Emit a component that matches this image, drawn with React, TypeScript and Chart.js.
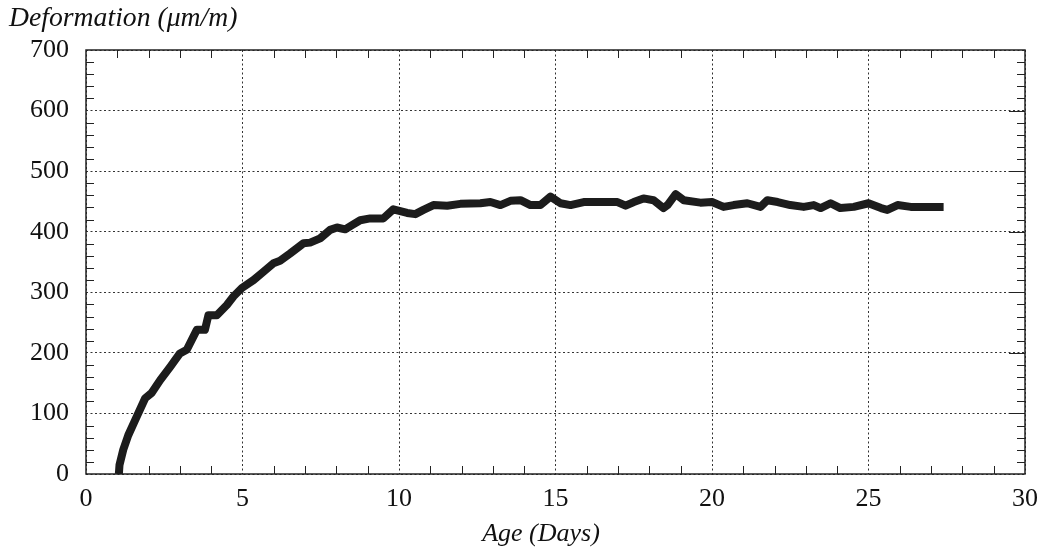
import React, { useEffect, useRef } from "react";
import { Chart, registerables } from "chart.js";

Chart.register(...registerables);

const ages = [
  1.05, 1.07, 1.19, 1.35, 1.57, 1.89, 2.1, 2.37, 2.69, 3.0, 3.22, 3.54, 3.8, 3.91, 4.18, 4.5,
  4.71, 4.98, 5.35, 5.67, 5.99, 6.2, 6.52, 6.95, 7.16, 7.48, 7.8, 8.02, 8.28, 8.5, 8.76, 9.08,
  9.5, 9.82, 10.26, 10.52, 10.78, 11.1, 11.54, 11.96, 12.6, 12.92, 13.24, 13.56, 13.88, 14.2,
  14.52, 14.84, 15.16, 15.48, 15.9, 16.44, 16.98, 17.24, 17.5, 17.81, 18.13, 18.45, 18.58,
  18.84, 19.1, 19.63, 20.0, 20.37, 20.69, 21.13, 21.55, 21.77, 22.1, 22.5, 22.93, 23.25,
  23.47, 23.79, 24.1, 24.53, 25.0, 25.4, 25.6, 25.93, 26.35, 26.77, 27.4,
];

const deformation = [
  0, 15, 40, 64, 89, 125, 134, 155, 177, 199, 205, 238, 238, 262, 262, 279,
  293, 307, 320, 334, 348, 352, 364, 381, 382, 389, 403, 407, 404, 411, 419, 422,
  422, 437, 431, 429, 436, 444, 443, 446, 447, 449, 444, 451, 452, 444,
  444, 458, 447, 444, 449, 449, 449, 443, 449, 455, 452, 439, 444,
  462, 452, 448, 449, 441, 444, 447, 441, 452, 449, 444, 441, 444,
  439, 447, 439, 441, 447, 439, 436, 444, 441, 441, 441,
];

const xMin = 0;
const xMax = 30;
const xStep = 5;
const xMinorStep = 1;
const yMin = 0;
const yMax = 700;
const yStep = 100;
const yMinorStep = 20;

const yTitle = "Deformation (μm/m)";
const xTitle = "Age (Days)";

const FONT = '"Liberation Serif", "Times New Roman", serif';

const framePlugin = {
  id: "frame",
  beforeDatasetsDraw(chart: any) {
    const { ctx, chartArea, scales } = chart;
    const { left, right, top, bottom } = chartArea;
    const xs = scales.x;
    const ys = scales.y;
    ctx.save();
    ctx.setLineDash([]);
    ctx.strokeStyle = "#222";
    ctx.lineWidth = 1;
    ctx.beginPath();
    for (let v = xMin + xMinorStep; v < xMax; v += xMinorStep) {
      if (v % xStep === 0) continue;
      const px = Math.round(xs.getPixelForValue(v)) + 0.5;
      ctx.moveTo(px, bottom);
      ctx.lineTo(px, bottom - 8);
      ctx.moveTo(px, top);
      ctx.lineTo(px, top + 8);
    }
    for (let v = yMin + yMinorStep; v < yMax; v += yMinorStep) {
      const py = Math.round(ys.getPixelForValue(v)) + 0.5;
      if (v % yStep === 0) {
        ctx.moveTo(right, py);
        ctx.lineTo(right - 16, py);
        continue;
      }
      ctx.moveTo(left, py);
      ctx.lineTo(left + 8, py);
      ctx.moveTo(right, py);
      ctx.lineTo(right - 8, py);
    }
    ctx.stroke();
    ctx.lineWidth = 1.5;
    ctx.strokeRect(left, top, right - left, bottom - top);
    ctx.restore();
  },
  afterDraw(chart: any) {
    const { ctx } = chart;
    ctx.save();
    ctx.fillStyle = "#111";
    ctx.textBaseline = "alphabetic";
    ctx.font = `italic 27.7px ${FONT}`;
    ctx.textAlign = "left";
    ctx.fillText(yTitle, 9, 26);
    ctx.font = `italic 26px ${FONT}`;
    ctx.textAlign = "center";
    ctx.fillText(xTitle, 541, 541);
    ctx.restore();
  },
};

export default function App() {
  const canvasRef = useRef<HTMLCanvasElement | null>(null);

  useEffect(() => {
    if (!canvasRef.current) return;
    const points = ages.map((a, i) => ({ x: a, y: deformation[i] }));
    const chart = new Chart(canvasRef.current, {
      type: "line",
      data: {
        datasets: [
          {
            data: points,
            borderColor: "#1c1c1c",
            borderWidth: 8,
            pointRadius: 0,
            tension: 0,
            borderJoinStyle: "round",
            borderCapStyle: "butt",
            fill: false,
          },
        ],
      },
      options: {
        animation: false,
        responsive: false,
        maintainAspectRatio: false,
        layout: { padding: { left: 0, right: 18, top: 50, bottom: 0 } },
        plugins: {
          legend: { display: false },
          tooltip: { enabled: false },
          title: { display: false },
        },
        scales: {
          x: {
            type: "linear",
            min: xMin,
            max: xMax,
            ticks: {
              stepSize: xStep,
              padding: 10,
              color: "#111",
              font: { family: FONT, size: 26 },
              maxRotation: 0,
            },
            grid: {
              color: "#333",
              lineWidth: 1,
              drawTicks: false,
            },
            border: { display: false, dash: [2, 2.5] },
            afterFit: (scale: any) => {
              scale.height = 77;
              scale.paddingLeft = 0;
              scale.paddingRight = 0;
            },
          },
          y: {
            type: "linear",
            min: yMin,
            max: yMax,
            ticks: {
              stepSize: yStep,
              padding: 17,
              color: "#111",
              font: { family: FONT, size: 26 },
            },
            grid: {
              color: "#333",
              lineWidth: 1,
              drawTicks: false,
            },
            border: { display: false, dash: [2, 2.5] },
            afterFit: (scale: any) => {
              scale.width = 86;
              scale.paddingTop = 0;
              scale.paddingBottom = 0;
            },
          },
        },
      },
      plugins: [framePlugin],
    });
    return () => chart.destroy();
  }, []);

  return (
    <div style={{ position: "absolute", left: 0, top: 0, width: 1043, height: 551, background: "#fff" }}>
      <canvas ref={canvasRef} width={1043} height={551} />
    </div>
  );
}
